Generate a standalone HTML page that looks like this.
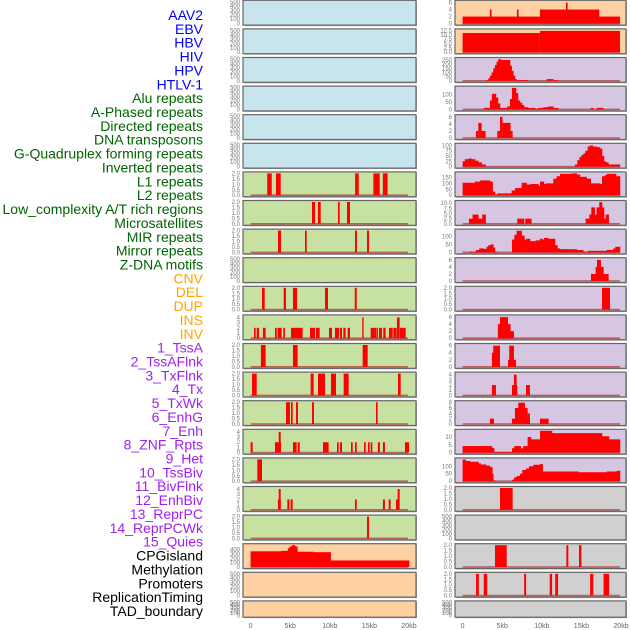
<!DOCTYPE html>
<html><head><meta charset="utf-8"><style>
html,body{margin:0;padding:0;background:#fff;}
svg{display:block;font-family:"Liberation Sans",sans-serif;}
</style></head><body>
<svg id="chart" width="630" height="630" viewBox="0 0 630 630" xmlns="http://www.w3.org/2000/svg">
<g id="labels"></g>
<g id="panels"></g>
<g id="xaxes"></g>
</svg>
<script>
// ---- data ----
const featureLabels = ["AAV2","EBV","HBV","HIV","HPV","HTLV-1","Alu repeats","A-Phased repeats","Directed repeats","DNA transposons","G-Quadruplex forming repeats","Inverted repeats","L1 repeats","L2 repeats","Low_complexity A/T rich regions","Microsatellites","MIR repeats","Mirror repeats","Z-DNA motifs","CNV","DEL","DUP","INS","INV","1_TssA","2_TssAFlnk","3_TxFlnk","4_Tx","5_TxWk","6_EnhG","7_Enh","8_ZNF_Rpts","9_Het","10_TssBiv","11_BivFlnk","12_EnhBiv","13_ReprPC","14_ReprPCWk","15_Quies","CPGisland","Methylation","Promoters","ReplicationTiming","TAD_boundary"];
const labelGroups = ["v","v","v","v","v","v","r","r","r","r","r","r","r","r","r","r","r","r","r","s","s","s","s","s","c","c","c","c","c","c","c","c","c","c","c","c","c","c","c","o","o","o","o","o"];
const xTickValues = [0,5,10,15,20];
const xTickLabels = ["0","5kb","10kb","15kb","20kb"];

// left column panels: intervals [startKb, endKb, value]
const L6 = [[2.1,2.67,2],[3.2,3.8,2],[13.2,13.65,2],[15.5,16.3,2],[16.7,17.3,2]];
const L7 = [[7.75,8.13,2],[8.5,8.85,2],[11.03,11.25,2],[12.17,12.55,2]];
const L8 = [[3.46,3.84,2],[6.87,7.08,2],[13.18,13.43,2],[14.7,14.95,2]];
const L10 = [[1.44,1.78,2],[4.18,4.47,2],[5.35,5.86,2],[9.4,9.77,2],[13.15,13.4,2]];
const L11 = [[0.43,0.64,2],[0.77,1.06,2],[1.56,1.9,2],[3.08,3.3,2],[3.4,3.92,2],[4.13,4.34,2],[5.1,6.57,2],[7.5,8.13,2],[8.25,8.72,2],[9.9,10.28,2],[10.65,11.16,2],[11.29,11.54,2],[11.71,12.0,2],[12.25,12.55,2],[14.1,14.27,4],[15.16,15.87,2],[15.92,16.08,2],[16.21,16.59,2],[16.75,17.05,2],[17.47,17.94,2],[18.02,18.44,2],[18.48,18.82,4],[18.86,19.58,2]];
const L12 = [[1.3,1.9,2],[5.35,5.94,2],[14.15,14.78,2]];
const L13 = [[0.18,0.77,2],[7.58,7.96,2],[8.51,9.4,2],[10.15,10.78,2],[11.75,12.38,2],[18.61,18.95,2]];
const L14 = [[4.47,4.97,2],[5.1,5.31,2],[5.73,5.98,2],[7.75,8.0,2],[15.83,16.04,2]];
const L15 = [[0,0.26,2],[3.08,3.84,2],[3.55,3.8,4],[5.35,5.81,2],[5.94,6.2,2],[9.14,9.85,2],[10.91,11.12,2],[11.29,11.54,2],[12.68,12.89,2],[13.18,13.4,2],[14.32,14.53,2],[14.82,15.03,2],[15.16,15.37,2],[16.08,16.33,2],[16.71,16.96,2],[19.49,20,2]];
const L16 = [[0.85,1.44,2]];
const L17 = [[3.45,3.8,2],[3.55,3.8,4],[4.64,4.9,2],[5.05,5.31,2],[13.18,13.4,2],[16.71,16.96,2],[17.43,17.68,2],[18.36,18.78,2],[18.57,18.82,4]];
const L18 = [[14.7,14.95,2]];
// left row 19: step histogram (edges, values)
const L19e = [0,3.84,4.7,4.9,5.2,5.6,5.9,7.9,10.1,20];
const L19v = [360,370,430,470,500,470,350,340,150];

// right column panels
const R0 = [[0,19.87,2],[3.45,3.66,4],[6.86,7.07,4],[9.76,17.26,4],[13.05,13.26,6]];
const R1 = [[0,9.76,11],[9.76,19.87,12.2]];
const R2e = [3.03,3.24,3.45,3.66,3.87,4.08,4.29,4.5,4.8,5.98,6.19,6.4,6.61,6.82,8.21,10.61,11.45,12.08];
const R2v = [10,30,60,100,150,190,230,260,250,180,120,60,20,10,0,20,10];
const R3e = [2.69,3.45,3.7,4.21,4.46,4.72,5.64,5.98,6.23,6.74,6.99,7.24,7.49,7.75,8.25,9.14,9.56,10.19,10.82,11.45,12.08,16.17,16.5,16.92,17.77];
const R3v = [10,60,105,80,40,10,20,70,145,110,60,45,30,15,10,5,10,15,20,10,0,10,0,10];
const R4 = [[1.68,1.98,2],[1.98,2.4,4.3],[2.4,2.9,2],[4.38,4.72,2],[4.72,5.05,6],[5.05,6.06,4.3],[6.06,6.32,2]];
const R5e = [0,0.29,0.72,1.14,1.56,1.98,2.4,2.9,14.19,14.48,14.74,14.99,15.24,15.49,15.79,16.08,16.42,16.92,17.35,17.6,17.85,18.1,18.4,19.87];
const R5v = [25,35,38,35,28,20,10,0,10,30,45,55,62,75,95,100,95,92,85,50,25,20,10];
const R6e = [0,1.56,2.23,3.45,3.79,4.08,4.38,6.19,6.61,7.45,8.08,8.59,9.56,9.77,10.27,10.52,11.45,11.87,12.29,13.76,14.4,14.82,15.66,16.17,17.35,17.6,17.98,18.19,19.37,19.87];
const R6v = [105,115,125,115,30,5,15,40,60,105,90,95,80,115,95,100,140,160,180,185,175,155,140,100,95,160,170,180,160];
const R7e = [0.8,1.26,1.98,2.48,2.9,6.9,7.75,7.91,8.67,15.53,16.0,16.25,16.67,16.92,17.26,17.6,17.85,18.06,18.44];
const R7v = [2.5,4.5,2.5,4.5,0,2.5,0,2.5,0,2.5,4.5,8,4.5,8,10.5,8,2.5,4.5];
const R8e = [0.84,1.26,1.35,1.68,2.1,2.61,3.03,3.24,3.54,3.87,4.08,4.29,6.23,6.53,6.82,7.45,7.79,8.08,8.5,9.22,9.77,10.06,10.27,10.82,11.66,11.96,12.29,14.4,15.24,15.83,18.19,19.03,19.28,19.87];
const R8v = [5,0,5,15,25,22,35,45,50,30,5,0,80,110,135,105,80,85,70,75,85,80,90,85,45,25,20,15,5,10,15,25,35];
const R9 = [[16.21,18.44,2],[16.8,17.81,4],[16.97,17.47,6]];
const R10 = [[17.6,18.61,2]];
const R11 = [[4.46,6.48,2],[4.46,6.06,4],[4.72,5.73,6]];
const R12 = [[3.7,4.72,4],[3.87,4.72,6],[5.73,6.74,2],[5.89,6.48,6]];
const R13 = [[3.7,4.21,2],[6.23,6.9,2],[6.48,6.82,4],[8.0,8.5,2]];
const R14 = [[3.45,3.96,2],[6.23,8.5,2],[6.61,8.21,6],[7.03,7.87,8],[8.21,8.5,4],[9.77,10.86,2]];
const R15e = [0,3.7,3.96,6.23,6.53,7.33,7.66,8.21,8.63,9.77,11.28,17.6,18.48,19.87];
const R15v = [4.2,3,0.5,2.8,4.2,2.8,4.2,10,8.5,14,12.5,10.5,8.5];
const R16e = [0,0.38,0.93,1.98,2.27,2.95,3.45,3.75,3.87,4.21,6.23,6.48,6.82,7.24,7.54,8.0,8.38,8.93,9.77,10.1,14.61,18.19,19.45,19.87];
const R16v = [145,135,130,120,112,105,95,50,5,0,10,25,35,50,75,85,100,110,115,65,60,65,70];
const R17 = [[4.72,6.32,2]];
const R19 = [[4.09,5.57,2],[13.1,13.35,2],[14.7,15.0,2]];
const R20 = [[1.7,2.05,2],[2.67,3.1,2],[7.77,8.02,2],[11.0,11.3,2],[11.7,12.05,2],[16.1,16.5,2],[17.8,18.5,2]];

// y scales: [max, ticks]
const S500 = [500,[0,100,200,300,400,500]];
const S2 = [2,[0,0.5,1,1.5,2]];
const S4 = [4.2,[0,1,2,3,4]];
const leftScales = [S500,S500,S500,S500,S500,S500,S2,S2,S2,S500,S2,S4,S2,S2,S2,S4,S2,S4,S2,[500,[0,100,200,300,400]],S500,S500];
const rightScales = [[6.2,[0,2,4,6]],[12.5,[0,2.5,5,7.5,10,12.5]],[262,[0,50,100,150,200,250]],[147,[0,50,100]],[6.2,[0,2,4,6]],[103,[0,25,50,75,100]],[184,[0,50,100,150]],[10.6,[0,2.5,5,7.5,10]],[136,[0,50,100]],[6.2,[0,2,4,6]],S2,[6.2,[0,2,4,6]],[6.2,[0,2,4,6]],S4,[8.2,[0,2,4,6,8]],[14,[0,5,10]],[146,[0,50,100]],S2,S500,S2,S2,S500];
const leftData = [null,null,null,null,null,null,L6,L7,L8,null,L10,L11,L12,L13,L14,L15,L16,L17,L18,[L19e,L19v],null,null];
const rightData = [R0,R1,[R2e,R2v],[R3e,R3v],R4,[R5e,R5v],[R6e,R6v],[R7e,R7v],[R8e,R8v],R9,R10,R11,R12,R13,R14,[R15e,R15v],[R16e,R16v],R17,null,R19,R20,null];
const leftColors = ["#c8e4ec","#c8e4ec","#c8e4ec","#c8e4ec","#c8e4ec","#c8e4ec","#c6e1a2","#c6e1a2","#c6e1a2","#c6e1a2","#c6e1a2","#c6e1a2","#c6e1a2","#c6e1a2","#c6e1a2","#c6e1a2","#c6e1a2","#c6e1a2","#c6e1a2","#fdd1a2","#fdd1a2","#fdd1a2"];
const rightColors = ["#fdd1a2","#fdd1a2","#d6c6e2","#d6c6e2","#d6c6e2","#d6c6e2","#d6c6e2","#d6c6e2","#d6c6e2","#d6c6e2","#d6c6e2","#d6c6e2","#d6c6e2","#d6c6e2","#d6c6e2","#d6c6e2","#d6c6e2","#d0d0d0","#d0d0d0","#d0d0d0","#d0d0d0","#d0d0d0"];

// ---- drawing ----
const NS = "http://www.w3.org/2000/svg";
function mk(tag, attrs, parent){ const e=document.createElementNS(NS,tag); for(const k in attrs) e.setAttribute(k,attrs[k]); parent.appendChild(e); return e; }
const groupColor = {v:"#0000ff", r:"#006400", s:"#ffa500", c:"#a020f0", o:"#000000"};
const labelsG = document.getElementById("labels");
featureLabels.forEach((t,i)=>{
  const e = mk("text",{x:203,y:15+i*13.86,"text-anchor":"end","dominant-baseline":"central","font-size":"14",fill:groupColor[labelGroups[i]]},labelsG);
  
  
  e.textContent = t;
});

const cols = [{x:243,w:173,x0:250.6},{x:455,w:171,x0:462.6}];
const KB = 7.92;
const panelsG = document.getElementById("panels");
function fmt(v, max){ if(max<=15) return v.toFixed(max<=2.5||max===12.5||max===10.6?1:0); return String(v); }
for(let r=0;r<22;r++){
  const top = 0.3 + r*28.6, h = r===21 ? 16.3 : 24.8;
  [0,1].forEach(c=>{
    const col = cols[c];
    const sc = c===0 ? leftScales[r] : rightScales[r];
    const data = c===0 ? leftData[r] : rightData[r];
    const color = c===0 ? leftColors[r] : rightColors[r];
    const g = mk("g",{},panelsG);
    
    
    mk("rect",{x:col.x+1,y:top+1,width:col.w,height:h,fill:"#aaa"},g);
    mk("rect",{x:col.x,y:top,width:col.w,height:h,fill:color,stroke:"#666","stroke-width":1.2},g);
    const yb = top + h - 1.5, ht = h - 3;
    const yS = v => yb - Math.min(v,sc[0])/sc[0]*ht;
    const xS = k => Math.max(col.x+0.6, Math.min(col.x+col.w-0.6, col.x0 + k*KB));
    // ticks
    sc[1].forEach(tv=>{
      const t = mk("text",{x:col.x-3,y:yS(tv)+2,"text-anchor":"end","font-size":"6",fill:"#777"},g);
      
      
      t.textContent = fmt(tv, sc[0]);
    });
    if(!data) return;
    mk("rect",{x:xS(0),y:yb-0.8,width:19.87*KB,height:1.6,fill:"#b03030",opacity:0.7},g);
    if(Array.isArray(data[0]) && typeof data[0][0]==="number" && data.length===2 && data[0].length===data[1].length+1 && !Array.isArray(data[0][0])){
      const e=data[0], v=data[1];
      for(let i=0;i<v.length;i++){
        if(v[i]<=0) continue;
        const b = mk("rect",{x:xS(e[i]),y:yS(v[i]),width:Math.max(0.5,xS(e[i+1])-xS(e[i])+0.3),height:yb-yS(v[i]),fill:"#ff0000"},g);
        
        
      }
    } else {
      data.forEach(d=>{
        const b = mk("rect",{x:xS(d[0]),y:yS(d[2]),width:Math.max(0.8,xS(d[1])-xS(d[0])),height:yb-yS(d[2]),fill:"#ff0000"},g);
        
        
      });
    }
  });
}
const xaG = document.getElementById("xaxes");
cols.forEach(col=>{
  xTickValues.forEach((v,i)=>{
    const t = mk("text",{x:col.x0+v*KB,y:628,"text-anchor":"middle","font-size":"7",fill:"#666"},xaG);
    
    
    t.textContent = xTickLabels[i];
  });
});
</script>
</body></html>
